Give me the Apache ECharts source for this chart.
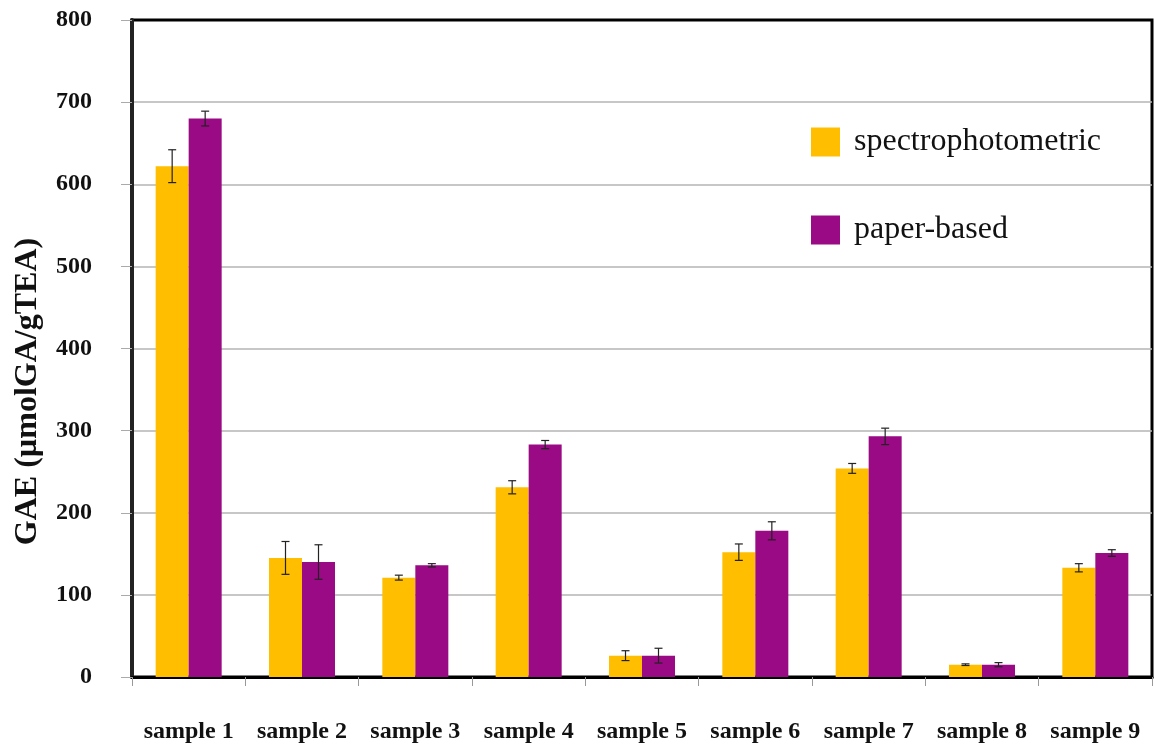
<!DOCTYPE html>
<html>
<head>
<meta charset="utf-8">
<script src="https://cdn.jsdelivr.net/npm/echarts@6/dist/echarts.min.js"></script>
<style>
  html, body { margin: 0; padding: 0; background: #fff; }
  #chart { width: 1154px; height: 745px; }
</style>
</head>
<body>
<div id="chart"></div>
<script>
// GAE per sample, two measurement methods, with standard deviations
const categories = ['sample 1', 'sample 2', 'sample 3', 'sample 4', 'sample 5', 'sample 6', 'sample 7', 'sample 8', 'sample 9'];
const spectroValues = [622, 145, 121, 231, 26, 152, 254, 15, 133];
const spectroErrors = [20, 20, 3, 8, 6, 10, 6, 1, 5];
const paperValues = [680, 140, 136, 283, 26, 178, 293, 15, 151];
const paperErrors = [9, 21, 2, 5, 9, 11, 10, 2.5, 4];
const yTicks = [0, 100, 200, 300, 400, 500, 600, 700, 800];

const BAR_W = 33;
const FONT = '"Liberation Serif", "Times New Roman", serif';

function errorSeries(values, errors, offset) {
  return {
    type: 'custom',
    z: 10,
    silent: true,
    renderItem: function (params, api) {
      const idx = api.value(0);
      const hi = api.coord([idx, api.value(1) + api.value(2)]);
      const lo = api.coord([idx, api.value(1) - api.value(2)]);
      const x = hi[0] + offset;
      const cap = 4;
      const style = { stroke: '#222', lineWidth: 1.2 };
      return {
        type: 'group',
        children: [
          { type: 'line', shape: { x1: x, y1: hi[1], x2: x, y2: lo[1] }, style: style },
          { type: 'line', shape: { x1: x - cap, y1: hi[1], x2: x + cap, y2: hi[1] }, style: style },
          { type: 'line', shape: { x1: x - cap, y1: lo[1], x2: x + cap, y2: lo[1] }, style: style }
        ]
      };
    },
    encode: { x: 0, y: 1 },
    data: values.map((v, i) => [i, v, errors[i]])
  };
}

const chart = echarts.init(document.getElementById('chart'));
chart.setOption({
  animation: false,
  backgroundColor: '#fff',
  grid: {
    left: 132, top: 20, width: 1020, height: 657,
    show: true, borderColor: '#000', borderWidth: 3, backgroundColor: 'transparent'
  },
  legend: {
    orient: 'vertical',
    left: 811, top: 126,
    padding: 0,
    itemWidth: 29, itemHeight: 29, itemGap: 56,
    icon: 'rect',
    data: ['spectrophotometric', 'paper-based'],
    textStyle: { fontFamily: FONT, fontSize: 32, color: '#111', padding: [0, 0, 0, 9] }
  },
  xAxis: {
    type: 'category',
    data: categories,
    axisLine: { lineStyle: { color: '#000', width: 3 } },
    axisTick: { show: true, interval: 0, length: 9, lineStyle: { color: '#999', width: 1 } },
    axisLabel: { interval: 0, margin: 43, fontFamily: FONT, fontWeight: 'bold', fontSize: 24, color: '#111' },
    splitLine: { show: false }
  },
  yAxis: {
    type: 'value',
    min: yTicks[0], max: yTicks[yTicks.length - 1], interval: yTicks[1] - yTicks[0],
    name: 'GAE (µmolGA/gTEA)',
    nameLocation: 'middle',
    nameGap: 88,
    nameTextStyle: { fontFamily: FONT, fontWeight: 'bold', fontSize: 32, color: '#111', padding: [0, 86, 0, 0] },
    axisLine: { show: true, lineStyle: { color: '#222', width: 4 } },
    axisTick: { show: true, length: 11, lineStyle: { color: '#aaa', width: 1 } },
    axisLabel: { margin: 40, fontFamily: FONT, fontWeight: 'bold', fontSize: 24, color: '#111' },
    splitLine: { show: true, showMaxLine: false, lineStyle: { color: '#b5b5b5', width: 1.5 } }
  },
  series: [
    {
      name: 'spectrophotometric', type: 'bar', data: spectroValues,
      barWidth: BAR_W, barGap: '0%',
      itemStyle: { color: '#FFBE00' }
    },
    {
      name: 'paper-based', type: 'bar', data: paperValues,
      barWidth: BAR_W, barGap: '0%',
      itemStyle: { color: '#990A84' }
    },
    errorSeries(spectroValues, spectroErrors, -BAR_W / 2),
    errorSeries(paperValues, paperErrors, BAR_W / 2)
  ]
});
</script>
</body>
</html>
